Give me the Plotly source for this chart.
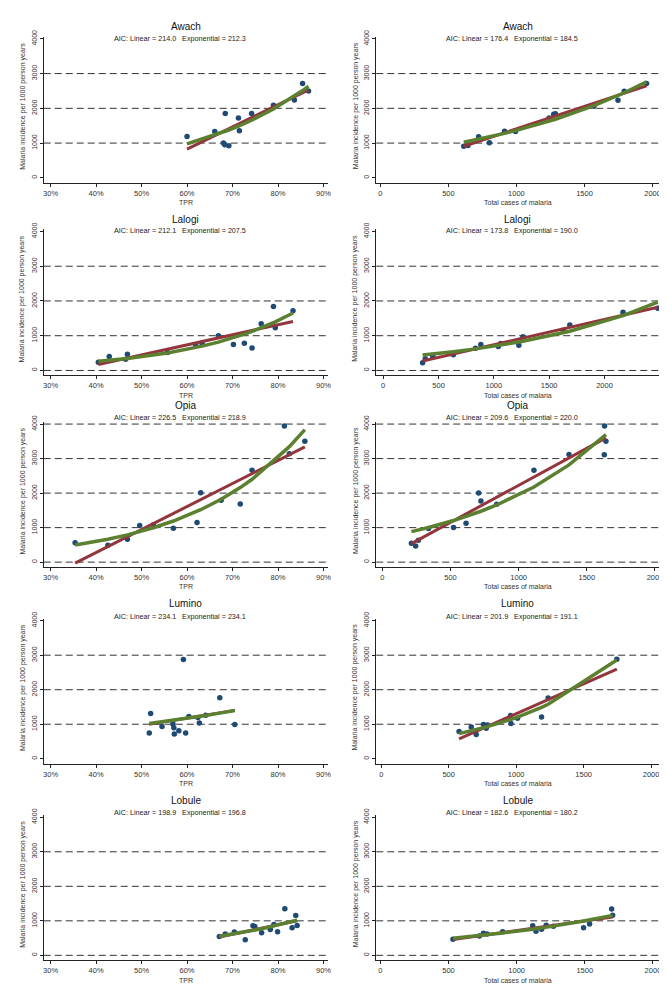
import numpy as np
import plotly.graph_objects as go

# ---------------- data ----------------
districts = ["Awach", "Lalogi", "Opia", "Lumino", "Lobule"]

awach_tpr = [60.0, 66.1, 68.4, 68.0, 68.3, 69.2, 71.3, 71.5, 74.2, 79.0, 83.6, 85.4, 86.7]
awach_inc_tpr = [1190, 1333, 1848, 1000, 950, 920, 1724, 1352, 1848, 2086, 2238, 2714, 2495]
awach_cases = [613, 644, 722, 801, 913, 993, 1240, 1274, 1286, 1569, 1746, 1792, 1956]
awach_inc_cases = [911, 930, 1180, 1007, 1343, 1333, 1724, 1832, 1842, 2062, 2235, 2494, 2715]

lalogi_tpr = [40.5, 42.9, 46.5, 46.9, 55.7, 61.9, 63.3, 66.9, 70.2, 72.6, 74.3, 76.3, 79.0, 79.4, 83.3]
lalogi_inc_tpr = [239, 401, 325, 468, 515, 735, 780, 1002, 745, 783, 649, 1346, 1842, 1231, 1718]
lalogi_cases = [356, 380, 448, 634, 834, 882, 1040, 1061, 1226, 1262, 1626, 1686, 2167, 2481]
lalogi_inc_cases = [224, 336, 411, 449, 636, 748, 692, 776, 729, 972, 1159, 1308, 1673, 1794]

opia_tpr = [35.4, 42.6, 46.9, 49.6, 52.6, 57.0, 62.2, 63.0, 67.5, 71.7, 74.3, 81.4, 82.5, 85.9]
opia_inc_tpr = [559, 492, 665, 1060, 1080, 983, 1147, 2014, 1793, 1687, 2660, 3942, 3140, 3499]
opia_cases = [213, 244, 264, 339, 522, 614, 706, 723, 839, 1112, 1369, 1628, 1630, 1640]
opia_inc_cases = [545, 469, 632, 976, 1005, 1129, 2000, 1770, 1675, 2660, 3120, 3110, 3943, 3502]

lumino_tpr = [51.7, 52.0, 54.5, 56.9, 57.1, 57.2, 58.2, 59.2, 59.7, 60.4, 62.4, 62.7, 64.1, 67.2, 70.5]
lumino_inc_tpr = [745, 1309, 936, 1003, 898, 717, 812, 2876, 745, 1223, 1194, 1032, 1261, 1767, 994]
lumino_cases = [577, 667, 704, 758, 778, 787, 958, 961, 1010, 1188, 1237, 1746]
lumino_inc_cases = [788, 923, 702, 990, 885, 981, 1250, 1019, 1173, 1211, 1760, 2885]

lobule_tpr = [67.1, 68.4, 70.4, 72.8, 74.5, 74.9, 76.4, 78.3, 79.1, 79.9, 81.5, 83.1, 83.9, 84.2]
lobule_inc_tpr = [549, 617, 675, 453, 858, 839, 655, 752, 896, 684, 1349, 800, 1157, 867]
lobule_cases = [533, 727, 756, 783, 897, 1118, 1142, 1183, 1217, 1270, 1491, 1535, 1697, 1704]
lobule_inc_cases = [468, 563, 640, 620, 687, 859, 697, 754, 869, 840, 802, 907, 1346, 1165]

aic_linear_tpr = ["214.0", "212.1", "226.5", "234.1", "198.9"]
aic_exp_tpr = ["212.3", "207.5", "218.9", "234.1", "196.8"]
aic_linear_cases = ["176.4", "173.8", "209.6", "201.9", "182.6"]
aic_exp_cases = ["184.5", "190.0", "220.0", "191.1", "180.2"]

ref_lines = [[1000, 2000, 3000], [0, 1000, 2000, 3000], [0, 1000, 2000, 3000, 4000],
             [1000, 2000, 3000], [0, 1000, 2000, 3000]]

tpr_ticks = [0.3, 0.4, 0.5, 0.6, 0.7, 0.8, 0.9]
case_ticks = [0, 500, 1000, 1500, 2000]
y_ticks = [0, 1000, 2000, 3000, 4000]

tpr_x = [awach_tpr, lalogi_tpr, opia_tpr, lumino_tpr, lobule_tpr]
tpr_y = [awach_inc_tpr, lalogi_inc_tpr, opia_inc_tpr, lumino_inc_tpr, lobule_inc_tpr]
case_x = [awach_cases, lalogi_cases, opia_cases, lumino_cases, lobule_cases]
case_y = [awach_inc_cases, lalogi_inc_cases, opia_inc_cases, lumino_inc_cases, lobule_inc_cases]

# ---------------- styling / layout ----------------
W, H = 667, 992
NAVY = "#1f4a74"
MAROON = "#93363c"
GREEN = "#5a8030"
FONT = "Liberation Sans, Arial, sans-serif"
rows_px = [(22, 169), (216, 363), (410, 556), (608, 754), (806, 952)]
title_px = [12, 206, 393, 593, 791]
aic_px = [24, 217, 405, 606, 803]
col_px = [(35, 321), (370, 655)]
left_range = [0.285, 0.909]
right_ranges = [[-30, 2048], [-63, 2493], [-45, 2030], [-37, 2059], [-30, 2045]]
y_range = [-143, 4057]


def fit_linear(x, y):
    b, a = np.polyfit(x, y, 1)
    return a + b * x


def fit_exp(x, y):
    b, la = np.polyfit(x, np.log(y), 1)
    a = np.exp(la)
    for _ in range(100):
        e = np.exp(b * x)
        f = a * e
        J = np.column_stack([e, a * x * e])
        d, *_ = np.linalg.lstsq(J, y - f, rcond=None)
        a += d[0]
        b += d[1]
        if np.max(np.abs(d)) < 1e-10:
            break
    return a * np.exp(b * x)


fig = go.Figure()
annotations = []
shapes = []
layout = {}

idx = 0
for r in range(5):
    top, bot = rows_px[r]
    for c in range(2):
        idx += 1
        xa = "x" if idx == 1 else f"x{idx}"
        ya = "y" if idx == 1 else f"y{idx}"
        if c == 0:
            x = np.array(tpr_x[r]) / 100.0
            y = np.array(tpr_y[r], dtype=float)
            aic = f"AIC: Linear = {aic_linear_tpr[r]}   Exponential = {aic_exp_tpr[r]}"
            xtitle = "TPR"
        else:
            x = np.array(case_x[r], dtype=float)
            y = np.array(case_y[r], dtype=float)
            aic = f"AIC: Linear = {aic_linear_cases[r]}   Exponential = {aic_exp_cases[r]}"
            xtitle = "Total cases of malaria"
        order = np.argsort(x)
        xs, ys = x[order], y[order]
        fig.add_trace(go.Scatter(x=xs, y=ys, mode="markers", xaxis=xa, yaxis=ya,
                                 marker=dict(size=5.5, color=NAVY), showlegend=False))
        fig.add_trace(go.Scatter(x=xs, y=fit_linear(xs, ys), mode="lines", xaxis=xa, yaxis=ya,
                                 line=dict(color=MAROON, width=3), showlegend=False))
        fig.add_trace(go.Scatter(x=xs, y=fit_exp(xs, ys), mode="lines", xaxis=xa, yaxis=ya,
                                 line=dict(color=GREEN, width=3.5), showlegend=False))

        x0, x1 = col_px[c]
        xd = [x0 / W, x1 / W]
        yd = [1 - bot / H, 1 - top / H]
        axis_common = dict(showline=True, linecolor="#222", linewidth=1, ticks="outside",
                           ticklen=3, tickcolor="#222", showgrid=False, zeroline=False)
        if c == 0:
            xaxis = dict(domain=xd, anchor=ya, range=left_range, tickvals=tpr_ticks,
                         tickformat=".0%", tickfont=dict(family=FONT, size=7.5, color="#333"),
                         **axis_common)
        else:
            xaxis = dict(domain=xd, anchor=ya, range=right_ranges[r], tickvals=case_ticks,
                         tickfont=dict(family=FONT, size=7.5, color="#333"), **axis_common)
        yaxis = dict(domain=yd, anchor=xa, range=y_range, tickvals=y_ticks, tickangle=-90,
                     tickfont=dict(family=FONT, size=7, color="#333"), **axis_common)
        layout["xaxis" if idx == 1 else f"xaxis{idx}"] = xaxis
        layout["yaxis" if idx == 1 else f"yaxis{idx}"] = yaxis

        for v in ref_lines[r]:
            shapes.append(dict(type="line", xref=f"{xa} domain", yref=ya, x0=0, x1=1, y0=v, y1=v,
                               line=dict(color="#333", width=1, dash="7px,4px"), layer="below"))

        cx = (x0 + x1) / 2
        annotations.append(dict(text=districts[r], x=cx / W, y=1 - title_px[r] / H,
                                xref="paper", yref="paper", showarrow=False,
                                font=dict(family=FONT, size=10, color="#111"),
                                xanchor="center", yanchor="middle"))
        annotations.append(dict(text=aic, x=(cx - 6) / W, y=1 - aic_px[r] / H,
                                xref="paper", yref="paper", showarrow=False,
                                font=dict(family=FONT, size=7.2, color="#222"),
                                xanchor="center", yanchor="middle"))
        annotations.append(dict(text=xtitle, x=cx / W, y=1 - (bot + 20) / H,
                                xref="paper", yref="paper", showarrow=False,
                                font=dict(family=FONT, size=7, color="#333"),
                                xanchor="center", yanchor="middle"))
        annotations.append(dict(text="Malaria incidence per 1000 person years",
                                x=(x0 - 21) / W, y=1 - ((top + bot) / 2 - 4) / H,
                                xref="paper", yref="paper", showarrow=False, textangle=-90,
                                font=dict(family=FONT, size=7, color="#333"),
                                xanchor="center", yanchor="middle"))

fig.update_layout(width=W, height=H, margin=dict(l=0, r=0, t=0, b=0),
                  paper_bgcolor="white", plot_bgcolor="white",
                  font=dict(family=FONT), annotations=annotations, shapes=shapes, **layout)

fig.write_html("out.html")
